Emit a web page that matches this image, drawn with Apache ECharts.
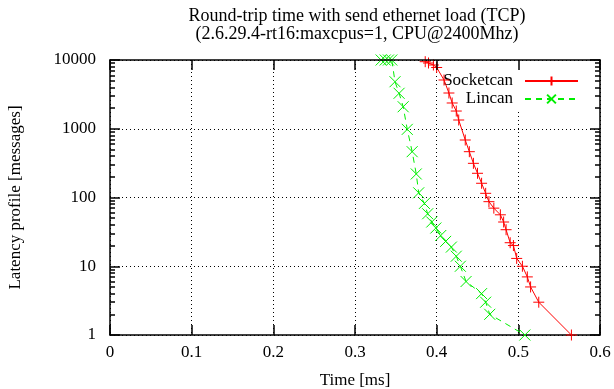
<!DOCTYPE html>
<html><head><meta charset="utf-8">
<script src="https://cdn.jsdelivr.net/npm/echarts@6/dist/echarts.min.js"></script>
<style>html,body{margin:0;padding:0;background:#fff}#c{width:614px;height:389px}</style>
</head><body><div id="c"></div>
<script>
const titleLines = ['Round-trip time with send ethernet load (TCP)', '(2.6.29.4-rt16:maxcpus=1, CPU@2400Mhz)'];
const xAxisName = 'Time [ms]';
const yAxisName = 'Latency profile [messages]';
const seriesNames = ['Socketcan', 'Lincan'];
const xMin = 0, xMax = 0.6, xStep = 0.1;
const yMin = 1, yMax = 10000;
const yMinorTicks = [2,3,4,5,6,7,8,9,20,30,40,50,60,70,80,90,200,300,400,500,600,700,800,900,2000,3000,4000,5000,6000,7000,8000,9000];

const socketcanX = [0.386, 0.390, 0.396, 0.400, 0.409, 0.415, 0.419, 0.424, 0.427, 0.435, 0.440, 0.445, 0.450, 0.455, 0.460, 0.464, 0.470, 0.478, 0.482, 0.485, 0.490, 0.494, 0.498, 0.505, 0.511, 0.515, 0.525, 0.565];
const socketcanY = [9450, 9040, 8460, 7780, 5120, 3310, 2370, 1810, 1340, 686, 464, 314, 225, 161, 115, 87, 70, 56, 44, 34, 22, 20, 13, 10, 7, 5, 3, 1];
const lincanX = [0.332, 0.337, 0.341, 0.345, 0.349, 0.354, 0.359, 0.364, 0.370, 0.375, 0.378, 0.385, 0.389, 0.394, 0.399, 0.405, 0.411, 0.418, 0.424, 0.429, 0.436, 0.455, 0.460, 0.465, 0.508];
const lincanY = [10000, 10000, 10000, 10000, 4830, 3280, 2090, 980, 464, 220, 117, 82, 58, 44, 36, 28, 23, 19, 14, 10, 6, 4, 3, 2, 1];

const FONT = 'Liberation Serif';
const serif = {fontFamily: FONT, fontSize: 17, color: '#000'};
const zip = (xs, ys) => xs.map((x, i) => [x, ys[i]]);
const plus = 'path://M0,5L10,5M5,0L5,10';
const cross = 'path://M0,0L10,10M10,0L0,10';
const frame = {color: '#000', width: 1.5};
const grid = {color: '#000', width: 1, type: [1, 3]};

const chart = echarts.init(document.getElementById('c'), null, {renderer: 'canvas'});
chart.setOption({
  animation: false,
  backgroundColor: '#fff',
  title: {
    text: titleLines.join('\n'), left: 357, top: 7, padding: 0, textAlign: 'center',
    textStyle: {fontFamily: FONT, fontSize: 18, fontWeight: 'normal', color: '#000', lineHeight: 18}
  },
  grid: {left: 110, right: 14, top: 60, bottom: 54, containLabel: false, outerBoundsMode: 'none'},
  legend: {
    orient: 'vertical', align: 'right', right: 15, top: 62, padding: [10, 20, 2, 6],
    backgroundColor: '#fff', itemWidth: 53, itemHeight: 11, itemGap: 0, z: 4,
    textStyle: Object.assign({}, serif, {lineHeight: 18, padding: [0, 7, 0, 0]}),
    data: seriesNames
  },
  xAxis: [
    {type: 'value', min: xMin, max: xMax, interval: xStep, position: 'bottom',
      name: xAxisName, nameLocation: 'middle', nameGap: 37, nameTextStyle: serif,
      axisLine: {show: true, lineStyle: frame},
      axisTick: {show: true, inside: true, length: 10, lineStyle: frame},
      axisLabel: Object.assign({}, serif, {margin: 9}),
      splitLine: {show: true, lineStyle: grid}},
    {type: 'value', min: xMin, max: xMax, interval: xStep, position: 'top', z: 6,
      axisLine: {show: true, lineStyle: frame},
      axisTick: {show: true, inside: true, length: 10, lineStyle: frame},
      axisLabel: {show: false}, splitLine: {show: false}}
  ],
  yAxis: [
    {type: 'log', logBase: 10, min: yMin, max: yMax, position: 'left', offset: 0,
      name: yAxisName, nameLocation: 'middle', nameGap: 86, nameTextStyle: serif,
      axisLine: {show: true, lineStyle: frame},
      axisTick: {show: true, inside: true, length: 10, lineStyle: frame},
      axisLabel: Object.assign({}, serif, {margin: 14, formatter: v => String(Math.round(v))}),
      splitLine: {show: true, lineStyle: grid}},
    {type: 'log', logBase: 10, min: yMin, max: yMax, position: 'left', offset: 0,
      axisLine: {show: false},
      axisTick: {show: true, inside: true, length: 5, lineStyle: frame, customValues: yMinorTicks},
      axisLabel: {show: false}, splitLine: {show: false}},
    {type: 'log', logBase: 10, min: yMin, max: yMax, position: 'right', offset: 0, z: 6,
      axisLine: {show: true, lineStyle: frame},
      axisTick: {show: true, inside: true, length: 10, lineStyle: frame},
      axisLabel: {show: false}, splitLine: {show: false}},
    {type: 'log', logBase: 10, min: yMin, max: yMax, position: 'right', offset: 0, z: 6,
      axisLine: {show: false},
      axisTick: {show: true, inside: true, length: 5, lineStyle: frame, customValues: yMinorTicks},
      axisLabel: {show: false}, splitLine: {show: false}}
  ],
  series: [
    {name: seriesNames[0], type: 'line', data: zip(socketcanX, socketcanY), z: 5,
      symbol: plus, symbolSize: 11, showSymbol: true, showAllSymbol: true,
      lineStyle: {color: '#ff0000', width: 1},
      itemStyle: {color: '#ff0000', borderColor: '#ff0000', borderWidth: 1},
      emphasis: {disabled: true}},
    {name: seriesNames[1], type: 'line', data: zip(lincanX, lincanY), z: 5,
      symbol: cross, symbolSize: 11, showSymbol: true, showAllSymbol: true,
      lineStyle: {color: '#00ee00', width: 1, type: [6, 5]},
      itemStyle: {color: '#00ee00', borderColor: '#00ee00', borderWidth: 1},
      emphasis: {disabled: true}}
  ]
});
</script></body></html>
